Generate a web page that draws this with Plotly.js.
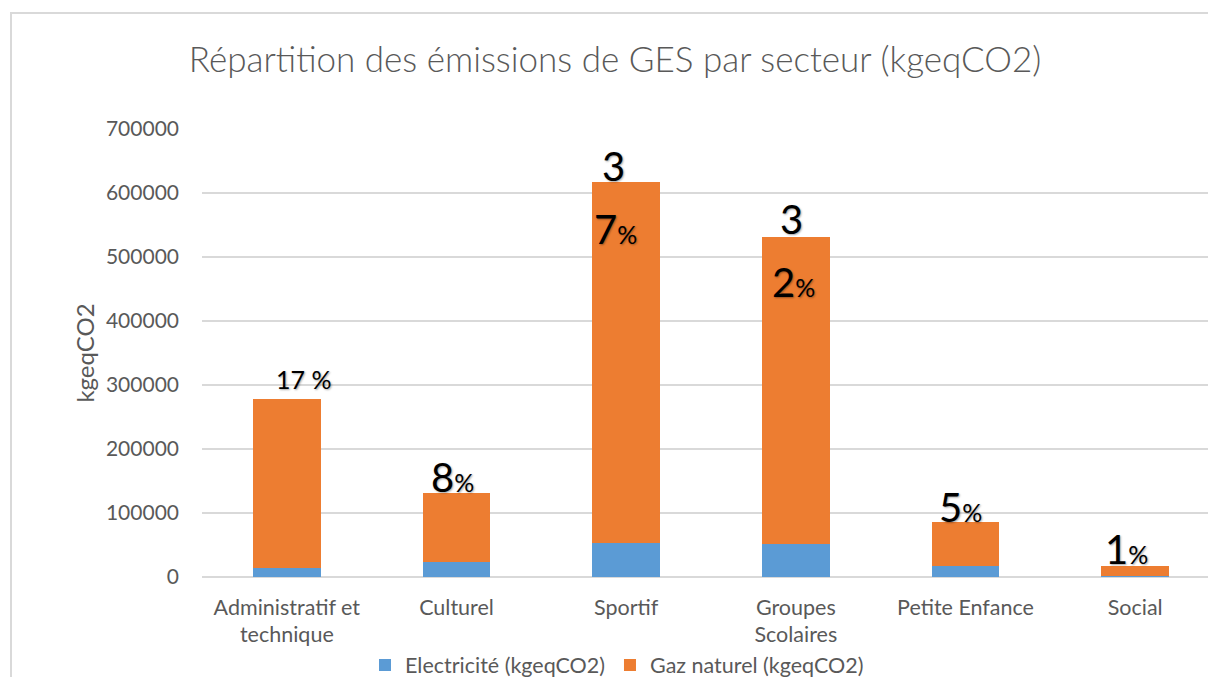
<!DOCTYPE html>
<html>
<head>
<meta charset="utf-8">
<script src="https://cdn.plot.ly/plotly-3.0.1.min.js"></script>
<style>
  html, body { margin: 0; padding: 0; overflow: hidden; background: #fff; }
  #chart { position: absolute; left: 0; top: 0; width: 1240px; height: 677px; }
  #frame { position: absolute; left: 10px; top: 12px; width: 1300px; height: 700px;
           border-left: 2px solid #d9d9d9; border-top: 2px solid #d9d9d9; pointer-events: none; }
</style>
</head>
<body>
<div id="chart"></div>
<div id="frame"></div>
<script>
// ---- data ----
const categories = ['Administratif et<br>technique', 'Culturel', 'Sportif', 'Groupes<br>Scolaires', 'Petite Enfance', 'Social'];
const electricite = [14500, 24000, 53600, 51600, 17200, 2000];
const gazNaturel = [263500, 107000, 563400, 479400, 68800, 15200];
const seriesNames = ['Electricité (kgeqCO2)', 'Gaz naturel (kgeqCO2)'];
// percentage labels as shown on the chart (split pieces)
const labelBig = ['', '8', '3', '3', '5', '1'];
const labelSmall = ['17 %', '%', '', '', '%', '%'];
const labelInnerBig = ['', '', '7', '2', '', ''];
const labelInnerSmall = ['', '', '%', '%', '', ''];

const totals = categories.map((c, i) => electricite[i] + gazNaturel[i]);

const FONT = 'Lato, "Open Sans", sans-serif';
const GREY = '#595959';

const traces = [
  { type: 'bar', name: seriesNames[0], x: categories, y: electricite, marker: { color: '#5B9BD5' } },
  { type: 'bar', name: seriesNames[1], x: categories, y: gazNaturel, marker: { color: '#ED7D31' } }
];

// label positioning (pixel shifts relative to bar top)
const outerShiftX = [17, -4, -13, -4, -5, -9];
const outerShiftY = [20, 16, 16, 18, 15, 17];
const innerShiftX = [0, 0, -11, -2, 0, 0];
const innerShiftY = [0, 0, -47, -45, 0, 0];

function rich(big, small, bigSize, smallSize) {
  let s = '';
  if (big) s += '<span style="font-size:' + bigSize + 'px">' + big + '</span>';
  if (small) s += '<span style="font-size:' + smallSize + 'px">' + small + '</span>';
  return s;
}

const annotations = [];
categories.forEach((c, i) => {
  const outer = (i === 0) ? rich('', labelSmall[i], 40, 25) : rich(labelBig[i], labelSmall[i], 40, 25);
  annotations.push({
    x: c, y: totals[i], xref: 'x', yref: 'y', text: outer, showarrow: false,
    xanchor: 'center', yanchor: 'middle', xshift: outerShiftX[i], yshift: outerShiftY[i],
    font: { family: FONT, size: 25, color: '#000', shadow: '1px 1px 2px rgba(0,0,0,0.35)' }
  });
  if (labelInnerBig[i]) {
    annotations.push({
      x: c, y: totals[i], xref: 'x', yref: 'y', text: rich(labelInnerBig[i], labelInnerSmall[i], 40, 25),
      showarrow: false, xanchor: 'center', yanchor: 'middle', xshift: innerShiftX[i], yshift: innerShiftY[i],
      font: { family: FONT, size: 25, color: '#000', shadow: '1px 1px 2px rgba(0,0,0,0.35)' }
    });
  }
});

const layout = {
  width: 1240, height: 677,
  margin: { l: 202, r: 20, t: 129, b: 100, pad: 0 },
  paper_bgcolor: '#ffffff', plot_bgcolor: '#ffffff',
  barmode: 'stack', bargap: 0.6,
  font: { family: FONT, color: GREY, size: 21 },
  title: {
    text: 'Répartition des émissions de GES par secteur (kgeqCO2)',
    font: { family: FONT, size: 35, color: GREY, weight: 300 },
    xref: 'container', x: 615 / 1240, xanchor: 'center',
    yref: 'container', y: 1 - 60 / 677, yanchor: 'middle'
  },
  xaxis: {
    type: 'category', showgrid: false, zeroline: false, showline: false, ticks: '',
    tickfont: { family: FONT, size: 21.5, color: GREY }, ticklabelstandoff: 15, fixedrange: true
  },
  yaxis: {
    range: [0, 700000], dtick: 100000, tick0: 0, showgrid: true, gridcolor: '#d9d9d9', gridwidth: 1.5,
    zeroline: true, zerolinecolor: '#d9d9d9', zerolinewidth: 1.5, showline: false, ticks: '',
    tickformat: 'd', ticklabelstandoff: 22,
    tickfont: { family: FONT, size: 21, color: GREY },
    title: { text: 'kgeqCO2', font: { family: FONT, size: 24, color: GREY }, standoff: 4 }
  },
  legend: {
    orientation: 'h', xref: 'container', yref: 'container',
    x: 617 / 1240, xanchor: 'center', y: 1 - 665 / 677, yanchor: 'middle',
    font: { family: FONT, size: 21.5, color: GREY }, traceorder: 'normal', itemwidth: 30
  },
  annotations: annotations,
  showlegend: true
};

Plotly.newPlot('chart', traces, layout, { displayModeBar: false, staticPlot: true });
</script>
</body>
</html>
